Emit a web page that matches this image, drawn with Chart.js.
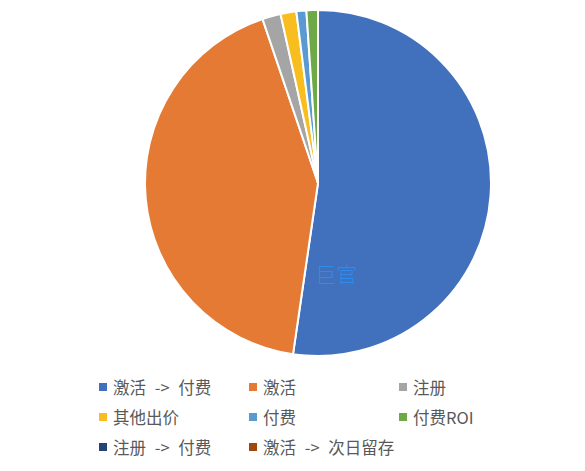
<!DOCTYPE html>
<html><head><meta charset="utf-8">
<script src="https://cdn.jsdelivr.net/npm/chart.js@4"></script>
<style>
html,body{margin:0;padding:0;background:#fff;}
#wrap{position:relative;width:585px;height:471px;overflow:hidden;}
#cbox{position:absolute;left:0;top:0;width:585px;height:366px;}
#legend{position:absolute;left:99px;top:375px;width:460px;display:grid;grid-template-columns:150px 150px 150px;row-gap:7px;font-family:"Noto Sans CJK SC","Noto Sans",sans-serif;font-size:16.5px;word-spacing:5px;color:#595959;}
#legend .it{display:flex;align-items:center;height:23px;white-space:pre;}
#legend .sw{width:8px;height:8px;margin-right:6px;flex:none;}
</style></head>
<body><div id="wrap"><div id="cbox"><canvas id="c"></canvas></div><div id="legend"></div></div>
<script>
const categories = ["激活 -> 付费","激活","注册","其他出价","付费","付费ROI","注册 -> 付费","激活 -> 次日留存"];
const values = [52.3, 42.5, 1.72, 1.47, 0.93, 1.07, 0, 0];
const colors = ["#4170BC","#E47A33","#A5A5A5","#F8BD1E","#5A9AD3","#6DAA47","#264478","#9E480E"];
const watermark = "巨官";

const wmPlugin = {
  id:'wm',
  afterDatasetsDraw(chart){
    const ctx = chart.ctx;
    ctx.save();
    ctx.font = '300 21px "Noto Sans CJK SC"';
    ctx.fillStyle = '#2E8BF0';
    ctx.textBaseline = 'middle';
    ctx.fillText(watermark, 315, 274);
    ctx.restore();
  }
};

const chart = new Chart(document.getElementById('c'), {
  type:'pie',
  data:{labels:categories, datasets:[{data:values, backgroundColor:colors, borderColor:'#ffffff', borderWidth:2}]},
  options:{
    responsive:true, maintainAspectRatio:false, animation:false,
    layout:{padding:{left:51,right:0,top:9,bottom:9}},
    plugins:{legend:{display:false},tooltip:{enabled:false}}
  },
  plugins:[wmPlugin]
});

const lg = document.getElementById('legend');
chart.options.plugins.legend.labels.generateLabels(chart).forEach(item=>{
  const d = document.createElement('div'); d.className='it';
  const s = document.createElement('span'); s.className='sw'; s.style.background=item.fillStyle;
  d.appendChild(s); d.appendChild(document.createTextNode(item.text));
  lg.appendChild(d);
});
</script></body></html>
